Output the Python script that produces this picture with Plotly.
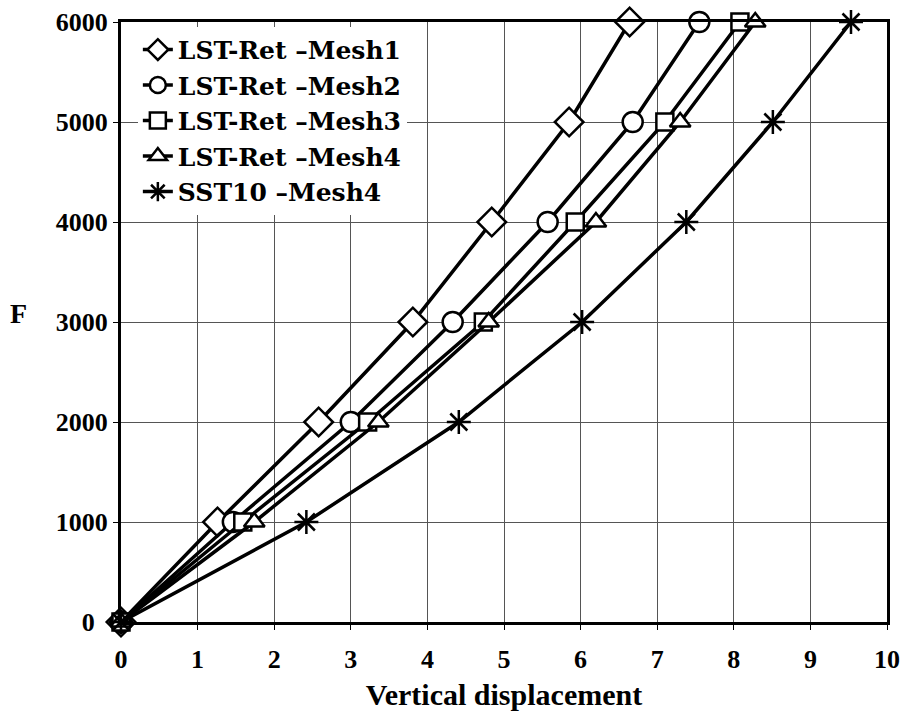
import plotly.graph_objects as go

F = [0, 1000, 2000, 3000, 4000, 5000, 6000]
mesh1 = [0, 1.26, 2.58, 3.81, 4.84, 5.85, 6.64]
mesh2 = [0, 1.46, 3.0, 4.33, 5.57, 6.68, 7.55]
mesh3 = [0, 1.59, 3.22, 4.73, 5.93, 7.1, 8.08]
mesh4 = [0, 1.74, 3.36, 4.8, 6.2, 7.3, 8.28]
sst10 = [0, 2.42, 4.41, 6.02, 7.38, 8.51, 9.53]

names = ["LST-Ret \u2013Mesh1", "LST-Ret \u2013Mesh2", "LST-Ret \u2013Mesh3",
         "LST-Ret \u2013Mesh4", "SST10 \u2013Mesh4"]
series = [mesh1, mesh2, mesh3, mesh4, sst10]
symbols = ["diamond", "circle", "square", "triangle-up", "asterisk-open"]
sizes = [22, 20, 17, 18, 20]
fills = ["white", "white", "white", "white", "black"]

y_ticks = [0, 1000, 2000, 3000, 4000, 5000, 6000]
y_ticktext = ["0\u00a0\u00a0", "1000", "2000", "3000", "4000", "5000", "6000"]

FONT = "Liberation Serif"
LFONT = "DejaVu Serif"

fig = go.Figure()
for nm, xs, sym, sz, fc in zip(names, series, symbols, sizes, fills):
    fig.add_trace(go.Scatter(
        x=xs, y=F, name=nm, mode="lines+markers", cliponaxis=False,
        line=dict(color="black", width=3.5),
        marker=dict(symbol=sym, size=sz, color=fc,
                    line=dict(color="black", width=2.5)),
    ))

fig.add_annotation(text="<b>F</b>", xref="paper", yref="paper",
                   x=-0.134, y=0.515, xanchor="center", yanchor="middle",
                   showarrow=False,
                   font=dict(family=FONT, size=28, color="black"))

fig.update_layout(
    width=909, height=715,
    margin=dict(l=121, r=22, t=22, b=93),
    paper_bgcolor="white", plot_bgcolor="white",
    font=dict(family=FONT, size=26, color="black"),
    showlegend=True,
    legend=dict(x=0.022, y=0.992, xanchor="left", yanchor="top",
                bgcolor="white", borderwidth=0,
                font=dict(family=LFONT, size=25, color="black", weight="bold"),
                tracegroupgap=0, itemwidth=30),
    xaxis=dict(range=[0, 10], dtick=1, tick0=0, automargin=False,
               showgrid=True, gridcolor="#555", gridwidth=1,
               showline=True, linecolor="black", linewidth=3, mirror=True,
               ticks="outside", ticklen=5, tickcolor="black", tickwidth=1,
               zeroline=False, ticklabelstandoff=7,
               tickfont=dict(family=FONT, size=26, weight="bold"),
               title=dict(text="<b>Vertical displacement</b>", standoff=11,
                          font=dict(family=FONT, size=30))),
    yaxis=dict(range=[0, 6000], tickmode="array", tickvals=y_ticks,
               ticktext=y_ticktext, automargin=False,
               showgrid=True, gridcolor="#555", gridwidth=1,
               showline=True, linecolor="black", linewidth=3, mirror=True,
               ticks="outside", ticklen=5, tickcolor="black", tickwidth=1,
               zeroline=False,
               tickfont=dict(family=FONT, size=26, weight="bold")),
)

fig.write_html("out.html")
